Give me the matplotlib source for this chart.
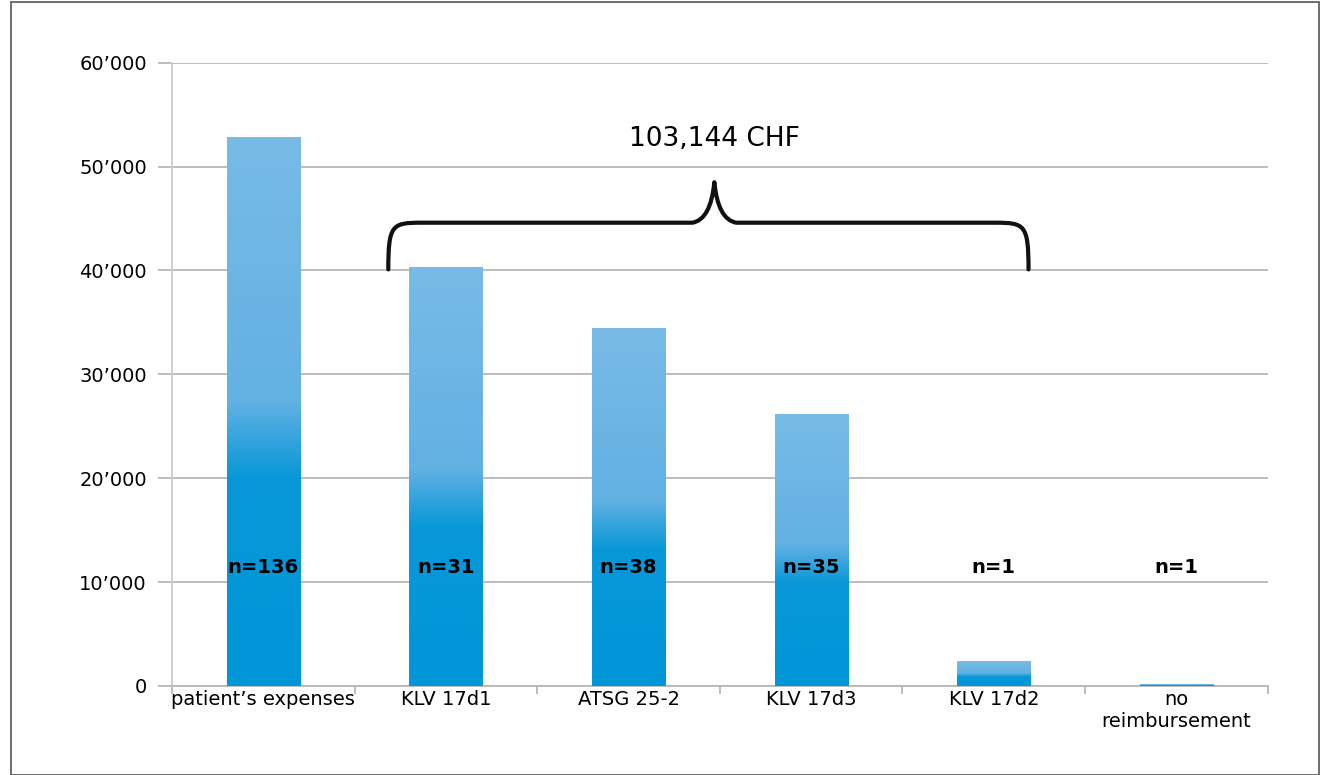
import numpy as np
import matplotlib.pyplot as plt
from matplotlib.patches import Rectangle
from matplotlib.path import Path
from matplotlib.patches import PathPatch
from matplotlib.colors import LinearSegmentedColormap
from matplotlib.ticker import FuncFormatter

categories = ["patient\u2019s expenses", "KLV 17d1", "ATSG 25-2", "KLV 17d3", "KLV 17d2", "no\nreimbursement"]
values = [52800, 40300, 34400, 26100, 2400, 100]
n_labels = ["n=136", "n=31", "n=38", "n=35", "n=1", "n=1"]
total_label = "103,144 CHF"

plt.rcParams['font.family'] = ['DejaVu Sans']

fig = plt.figure(figsize=(13.22, 7.75), dpi=100)
ax = fig.add_axes([0.130, 0.115, 0.829, 0.804])

# darker blue at the bottom, lighter at the top
cmap = LinearSegmentedColormap.from_list("bar", [(0, "#0096d8"), (0.38, "#0898d8"),
                                                 (0.52, "#62b1e3"), (1, "#78bbe7")])
grad = np.linspace(0, 1, 256).reshape(-1, 1)
x = np.arange(len(categories))
width = 0.4
for xi, v in zip(x, values):
    ax.imshow(grad, extent=[xi - width / 2, xi + width / 2, 0, v], origin='lower',
              cmap=cmap, aspect='auto', zorder=3, vmin=0, vmax=1)

ax.set_xlim(-0.5, len(categories) - 0.5)
ax.set_ylim(0, 60000)
ax.set_yticks(np.arange(0, 60001, 10000))
ax.yaxis.set_major_formatter(FuncFormatter(lambda v, p: "0" if v == 0 else "{:d}\u2019000".format(int(v / 1000))))
ax.yaxis.grid(True, color="#b8b8b8", linewidth=1.3, zorder=0)
ax.set_xticks(x)
ax.set_xticklabels(categories)
ax.set_xticks(np.arange(-0.5, len(categories)), minor=True)
ax.tick_params(axis='x', which='major', length=0, labelsize=14, pad=3)
ax.tick_params(axis='x', which='minor', length=6, color="#b8b8b8", width=1.3)
ax.tick_params(axis='y', length=10, color="#b8b8b8", width=1.3, labelsize=14, pad=8)
for s in ["top", "right"]:
    ax.spines[s].set_visible(False)
ax.spines["left"].set_color("#cccccc")
ax.spines["left"].set_linewidth(1.3)
ax.spines["bottom"].set_color("#b8b8b8")
ax.spines["bottom"].set_linewidth(1.3)

for xi, lab in zip(x, n_labels):
    ax.text(xi, 11400, lab, ha='center', va='center',
            fontsize=14, fontweight='bold', zorder=4)

# brace over KLV 17d1 .. KLV 17d2
x0, x1, xm = 0.685, 4.19, 2.47
yb, yh, yp = 40100, 44600, 48500
r = 0.18
verts = [(x0, yb), (x0, yh - 200), (x0 + 0.02, yh), (x0 + r, yh),
         (xm - 0.12, yh), (xm - 0.02, yh + 300), (xm, yp),
         (xm + 0.02, yh + 300), (xm + 0.12, yh), (x1 - r, yh),
         (x1 - 0.02, yh), (x1, yh - 200), (x1, yb)]
codes = [Path.MOVETO, Path.CURVE4, Path.CURVE4, Path.CURVE4,
         Path.LINETO, Path.CURVE3, Path.CURVE3,
         Path.CURVE3, Path.CURVE3, Path.LINETO,
         Path.CURVE4, Path.CURVE4, Path.CURVE4]
ax.add_patch(PathPatch(Path(verts, codes), fill=False, lw=3, color="#111111", zorder=5,
                       capstyle='round', joinstyle='round'))
ax.text(xm, 52700, total_label, ha='center', va='center', fontsize=19, zorder=5)

fig.patches.append(Rectangle((0.008, 0.0), 0.99, 0.998, transform=fig.transFigure,
                             fill=False, edgecolor="#555555", lw=1.2))

fig.savefig("out.png", dpi=100)
